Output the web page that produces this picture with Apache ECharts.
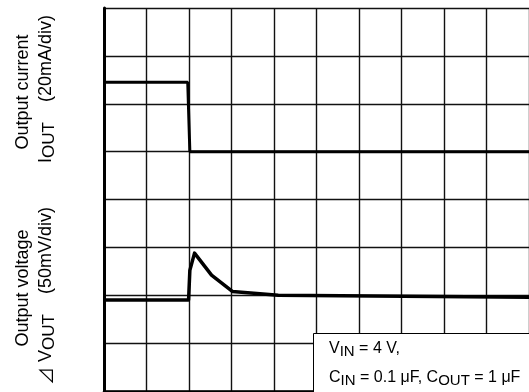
<!DOCTYPE html>
<html>
<head>
<meta charset="utf-8">
<style>
  html, body { margin: 0; padding: 0; background: #fff; }
  #chart { width: 529px; height: 392px; }
</style>
<script src="https://cdn.jsdelivr.net/npm/echarts@6/dist/echarts.min.js"></script>
</head>
<body>
<div id="chart"></div>
<script>
// Load transient response: time in horizontal divisions
const timeIout = [0, 1.97, 2.02, 10];
const iout = [129, 129, 100, 100];                 // output current, mA (20 mA/div)
const timeVout = [0, 1.99, 2.02, 2.13, 2.53, 3.02, 4.1, 10];
const dVout = [-5, -5, 26, 44, 21, 4, 0, -2];      // output voltage deviation, mV (50 mV/div)

const FONT = '"Liberation Sans", Arial, sans-serif';

const pairs = (xs, ys) => xs.map((x, i) => [x, ys[i]]);

const chart = echarts.init(document.getElementById('chart'), null, { renderer: 'canvas' });

const gridColor = '#111';
const sub = { fontFamily: FONT, fontSize: 15, padding: [6, 0, 0, 0], fill: '#000' };
const main = { fontFamily: FONT, fontSize: 16, fill: '#000' };
const lab = { fontFamily: FONT, fontSize: 18, fill: '#000' };
const labSub = { fontFamily: FONT, fontSize: 17, padding: [6, 0, 0, 0], fill: '#000' };
const tri = { fontFamily: '"Noto Sans CJK JP", "DejaVu Sans", sans-serif', fontSize: 18, fill: '#000' };

chart.setOption({
  animation: false,
  backgroundColor: '#fff',
  grid: { left: 104, top: 8, width: 427, height: 383, show: false },
  xAxis: {
    type: 'value', min: 0, max: 10, interval: 1, position: 'top',
    axisLine: { show: true, lineStyle: { color: '#000', width: 2.5 } },
    axisTick: { show: false }, axisLabel: { show: false },
    splitLine: { show: true, lineStyle: { color: gridColor, width: 1.4 } }
  },
  yAxis: [
    {
      type: 'value', min: 0, max: 160, interval: 20, position: 'left',
      axisLine: { show: true, lineStyle: { color: '#000', width: 3 } },
      axisTick: { show: false }, axisLabel: { show: false },
      splitLine: { show: true, lineStyle: { color: gridColor, width: 1.4 } }
    },
    {
      type: 'value', min: -100, max: 300, interval: 50, show: false,
      splitLine: { show: false }
    }
  ],
  series: [
    {
      name: 'IOUT', type: 'line', yAxisIndex: 0, showSymbol: false,
      data: pairs(timeIout, iout),
      lineStyle: { color: '#000', width: 3 }, z: 5
    },
    {
      name: 'dVOUT', type: 'line', yAxisIndex: 1, showSymbol: false,
      data: pairs(timeVout, dVout),
      lineStyle: { color: '#000', width: 3.5, join: 'round' }, z: 5
    }
  ],
  graphic: [
    {
      type: 'rect', left: 313, top: 333, z: 50,
      shape: { width: 230, height: 80 },
      style: { fill: '#fff', stroke: '#000', lineWidth: 1 }
    },
    {
      type: 'text', x: 329, y: 349, z: 51,
      style: {
        text: '{m|V}{s|IN}{m| = 4 V,}',
        verticalAlign: 'middle',
        rich: { m: main, s: sub }
      }
    },
    {
      type: 'text', x: 329, y: 378, z: 51,
      style: {
        text: '{m|C}{s|IN}{m| = 0.1 μF, C}{s|OUT}{m| = 1 μF}',
        verticalAlign: 'middle',
        rich: { m: main, s: sub }
      }
    },
    {
      type: 'text', x: 23, y: 92, rotation: Math.PI / 2, z: 51,
      style: { text: '{m|Output current}', align: 'center', verticalAlign: 'middle', rich: { m: lab } }
    },
    {
      type: 'text', x: 46, y: 89, rotation: Math.PI / 2, z: 51,
      style: {
        text: '{m|I}{s|OUT}{m|    (20mA/div)}',
        align: 'center', verticalAlign: 'middle', rich: { m: lab, s: labSub }
      }
    },
    {
      type: 'text', x: 23, y: 288, rotation: Math.PI / 2, z: 51,
      style: { text: '{m|Output voltage}', align: 'center', verticalAlign: 'middle', rich: { m: lab } }
    },
    {
      type: 'text', x: 46, y: 296, rotation: Math.PI / 2, z: 51,
      style: {
        text: '{t|⊿}{m| V}{s|OUT}{m|    (50mV/div)}',
        align: 'center', verticalAlign: 'middle', rich: { m: lab, s: labSub, t: tri }
      }
    }
  ]
});
</script>
</body>
</html>
